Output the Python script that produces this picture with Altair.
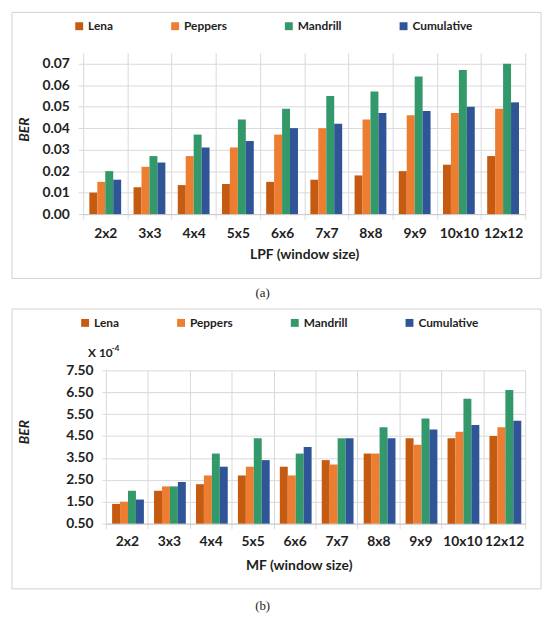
import altair as alt
import pandas as pd

cats = ["2x2", "3x3", "4x4", "5x5", "6x6", "7x7", "8x8", "9x9", "10x10", "12x12"]
series = ["Lena", "Peppers", "Mandrill", "Cumulative"]
colors = ["#C55A11", "#ED7D31", "#33996B", "#2F5597"]

lpf_lena = [0.010, 0.0125, 0.0135, 0.014, 0.015, 0.016, 0.018, 0.020, 0.023, 0.027]
lpf_peppers = [0.015, 0.022, 0.027, 0.031, 0.037, 0.040, 0.044, 0.046, 0.047, 0.049]
lpf_mandrill = [0.020, 0.027, 0.037, 0.044, 0.049, 0.055, 0.057, 0.064, 0.067, 0.070]
lpf_cum = [0.016, 0.024, 0.031, 0.034, 0.040, 0.042, 0.047, 0.048, 0.050, 0.052]

mf_lena = [1.4, 2.0, 2.3, 2.7, 3.1, 3.4, 3.7, 4.4, 4.4, 4.5]
mf_peppers = [1.5, 2.2, 2.7, 3.1, 2.7, 3.2, 3.7, 4.1, 4.7, 4.9]
mf_mandrill = [2.0, 2.2, 3.7, 4.4, 3.7, 4.4, 4.9, 5.3, 6.2, 6.6]
mf_cum = [1.6, 2.4, 3.1, 3.4, 4.0, 4.4, 4.4, 4.8, 5.0, 5.2]

lpf_ticks = [0.0, 0.01, 0.02, 0.03, 0.04, 0.05, 0.06, 0.07]
mf_ticks = [0.5, 1.5, 2.5, 3.5, 4.5, 5.5, 6.5, 7.5]


def long_df(vals):
    rows = []
    for s, arr in zip(series, vals):
        for c, v in zip(cats, arr):
            rows.append({"cat": c, "series": s, "v": v})
    return pd.DataFrame(rows)


FONT = "Lato"
TXT = "#1e1e1e"
GRID = "#d9d9d9"
one = pd.DataFrame({"k": [0]})


def panel(vals, W, H, domain, ticks, base, xtitle, p):
    df = long_df(vals)
    bars = alt.Chart(df).mark_bar().encode(
        x=alt.X("cat:N", sort=cats,
                scale=alt.Scale(paddingInner=0, paddingOuter=0),
                axis=alt.Axis(title=xtitle, labelAngle=0, tickBand="extent",
                              grid=True, gridColor=GRID, domainColor="#c8c8c8",
                              tickColor=GRID, tickSize=5,
                              labelFont=FONT, labelFontSize=14, labelFontWeight="bold",
                              labelColor=TXT, labelPadding=p["xlp"],
                              titleFont=FONT, titleFontSize=14, titleFontWeight="bold",
                              titleColor=TXT, titlePadding=p["xtp"],
                              **p.get("xtitlepos", {}))),
        xOffset=alt.XOffset("series:N", sort=series,
                            scale=alt.Scale(paddingInner=0, paddingOuter=0.78)),
        y=alt.Y("v:Q", scale=alt.Scale(domain=domain, zero=False, nice=False),
                axis=alt.Axis(values=ticks, format=".2f", grid=True, gridColor=GRID,
                              domain=False, tickColor=GRID, tickSize=p["yts"],
                              labelFont=FONT, labelFontSize=14, labelFontWeight="bold",
                              labelColor=TXT, labelPadding=p["ylp"],
                              title="BER", titleFont=FONT, titleFontSize=14,
                              titleFontWeight="bold", titleFontStyle="italic",
                              titleColor=TXT, titleAngle=270, titleBaseline="alphabetic",
                              titleAlign="center", titleX=p["btx"], titleY=p["bty"])),
        y2=alt.datum(base),
        color=alt.Color("series:N", sort=series,
                        scale=alt.Scale(domain=series, range=colors),
                        legend=alt.Legend(orient="none", legendX=p["lx"], legendY=p["ly"],
                                          direction="horizontal", title=None,
                                          symbolType="square", symbolSize=64,
                                          symbolStrokeWidth=0, labelFont=FONT,
                                          labelFontSize=12, labelFontWeight="bold",
                                          labelColor=TXT, columnPadding=56, padding=0,
                                          labelOffset=3)),
    )
    frame = alt.Chart(one).mark_rect(filled=False, stroke="#d0d0d0", strokeWidth=1).encode(
        x=alt.value(p["fx"]), x2=alt.value(p["fx2"]),
        y=alt.value(p["fy"]), y2=alt.value(p["fy2"]))
    layers = [frame, bars]
    if "spacer" in p:
        spacer = alt.Chart(one).mark_rect(opacity=0).encode(
            x=alt.value(0), x2=alt.value(1),
            y=alt.value(p["fy"]), y2=alt.value(p["spacer"]))
        layers.append(spacer)
    cap = alt.Chart(one).mark_text(font="Liberation Serif", fontSize=13, color=TXT,
                                   baseline="middle", align="center").encode(
        x=alt.value(p["cx"]), y=alt.value(p["cy"]), text=alt.value(p["cap"]))
    layers.append(cap)
    for t in p.get("extra", []):
        layers.append(alt.Chart(one).mark_text(font=FONT, fontSize=t[3], fontWeight="bold",
                                               color=TXT, align="left",
                                               baseline="alphabetic").encode(
            x=alt.value(t[0]), y=alt.value(t[1]), text=alt.value(t[2])))
    return alt.layer(*layers).properties(width=W, height=H)


def gap():
    # tiny invisible lead-in so each row's frame starts at the same place
    return alt.Chart(one).mark_rect(opacity=0).encode(
        x=alt.value(0), x2=alt.value(1), y=alt.value(0), y2=alt.value(1)
    ).properties(width=1, height=1)


pa = dict(xlp=8, xtp=7, yts=5, ylp=9, btx=-55, bty=77, lx=-10, ly=-33,
          fx=-72, fx2=463, fy=-41, fy2=228, spacer=257, cx=181.5, cy=243, cap="(a)")
pb = dict(xlp=6, xtp=10, yts=4, ylp=9, btx=-78, bty=62, lx=-27, ly=-54,
          fx=-95, fx2=440, fy=-62, fy2=221, cx=158.5, cy=238, cap="(b)",
          xtitlepos=dict(titleX=195),
          extra=[(-18, -14, "X 10", 12), (6, -20, "-4", 8)])

chart_a = panel([lpf_lena, lpf_peppers, lpf_mandrill, lpf_cum], 447, 163,
                [0, 0.075], lpf_ticks, 0, "LPF (window size)", pa)
chart_b = panel([mf_lena, mf_peppers, mf_mandrill, mf_cum], 424, 155,
                [0.5, 7.5], mf_ticks, 0.5, "MF (window size)", pb)

row_a = alt.hconcat(gap(), chart_a, spacing=0).resolve_scale(
    x="independent", y="independent", color="independent"
).resolve_legend(color="independent")
row_b = alt.hconcat(gap(), chart_b, spacing=0).resolve_scale(
    x="independent", y="independent", color="independent"
).resolve_legend(color="independent")

chart = alt.vconcat(row_a, row_b, spacing=0).resolve_scale(
    x="independent", y="independent", color="independent"
).resolve_legend(color="independent").properties(
    padding=0, background="white"
).configure_view(stroke="transparent")

chart.save("out.html", embed_options={"renderer": "svg", "actions": False})
